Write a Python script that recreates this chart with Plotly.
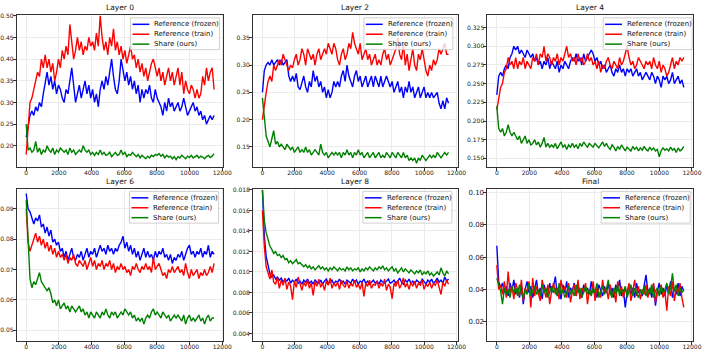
import numpy as np
import plotly.graph_objects as go

# x runs from step 0 to step 11500 for every series
MAX_STEP = 11500
TITLES = ["Layer 0", "Layer 2", "Layer 4", "Layer 6", "Layer 8", "Final"]
NAMES = ["Reference (frozen)", "Reference (train)", "Share (ours)"]

layer0_frozen = [
    0.22, 0.25, 0.27, 0.28, 0.27, 0.29, 0.28, 0.30, 0.29, 0.32,
    0.35, 0.37, 0.34, 0.36, 0.33, 0.35, 0.32, 0.34, 0.33, 0.31,
    0.30, 0.33, 0.32, 0.35, 0.38, 0.34, 0.30, 0.32, 0.34, 0.31,
    0.33, 0.35, 0.32, 0.34, 0.31, 0.33, 0.30, 0.32, 0.29, 0.33,
    0.35, 0.33, 0.36, 0.34, 0.37, 0.40, 0.36, 0.33, 0.32, 0.35,
    0.40, 0.37, 0.35, 0.37, 0.34, 0.36, 0.33, 0.35, 0.32, 0.34,
    0.30, 0.33, 0.31, 0.33, 0.32, 0.34, 0.31, 0.30, 0.33, 0.31,
    0.30, 0.29, 0.27, 0.30, 0.28, 0.31, 0.29, 0.30, 0.28, 0.29,
    0.30, 0.28, 0.29, 0.31, 0.29, 0.27, 0.28, 0.29, 0.30, 0.28,
    0.29, 0.27, 0.28, 0.26, 0.27, 0.25, 0.26, 0.27, 0.26, 0.27,
]
layer0_train = [
    0.18, 0.24, 0.30, 0.31, 0.33, 0.35, 0.37, 0.36, 0.40, 0.38,
    0.41, 0.38, 0.40, 0.37, 0.39, 0.35, 0.37, 0.40, 0.38, 0.42,
    0.40, 0.43, 0.41, 0.48, 0.44, 0.40, 0.42, 0.45, 0.42, 0.44,
    0.41, 0.43, 0.42, 0.45, 0.43, 0.44, 0.42, 0.46, 0.43, 0.50,
    0.45, 0.42, 0.44, 0.41, 0.45, 0.43, 0.47, 0.42, 0.44, 0.41,
    0.43, 0.40, 0.42, 0.39, 0.41, 0.43, 0.40, 0.41, 0.38, 0.40,
    0.37, 0.39, 0.36, 0.38, 0.35, 0.37, 0.39, 0.40, 0.38, 0.36,
    0.38, 0.35, 0.37, 0.34, 0.36, 0.38, 0.35, 0.37, 0.34, 0.36,
    0.38, 0.34, 0.37, 0.32, 0.35, 0.33, 0.32, 0.34, 0.33, 0.31,
    0.33, 0.31, 0.32, 0.36, 0.34, 0.38, 0.35, 0.37, 0.38, 0.33,
]
layer0_share = [
    0.25, 0.19, 0.195, 0.185, 0.19, 0.21, 0.185, 0.195, 0.18, 0.19,
    0.185, 0.20, 0.19, 0.185, 0.195, 0.18, 0.19, 0.185, 0.195, 0.19,
    0.185, 0.19, 0.18, 0.195, 0.185, 0.19, 0.18, 0.185, 0.19, 0.185,
    0.20, 0.19, 0.185, 0.19, 0.18, 0.185, 0.178, 0.185, 0.18, 0.19,
    0.18, 0.185, 0.178, 0.18, 0.185, 0.175, 0.18, 0.185, 0.178, 0.18,
    0.19, 0.18, 0.185, 0.175, 0.18, 0.178, 0.185, 0.18, 0.175, 0.18,
    0.172, 0.178, 0.175, 0.17, 0.176, 0.172, 0.178, 0.175, 0.18, 0.178,
    0.182, 0.176, 0.18, 0.172, 0.178, 0.174, 0.176, 0.17, 0.175, 0.168,
    0.175, 0.172, 0.178, 0.174, 0.17, 0.176, 0.173, 0.178, 0.172, 0.175,
    0.178, 0.172, 0.176, 0.174, 0.17, 0.175, 0.178, 0.173, 0.176, 0.182,
]

layer2_frozen = [
    0.25, 0.29, 0.30, 0.305, 0.30, 0.31, 0.30, 0.305, 0.31, 0.30,
    0.31, 0.30, 0.305, 0.31, 0.28, 0.27, 0.28, 0.27, 0.285, 0.26,
    0.255, 0.27, 0.28, 0.26, 0.25, 0.27, 0.26, 0.29, 0.27, 0.28,
    0.26, 0.27, 0.25, 0.26, 0.24, 0.255, 0.24, 0.25, 0.27, 0.26,
    0.27, 0.26, 0.28, 0.29, 0.27, 0.30, 0.28, 0.27, 0.26, 0.28,
    0.29, 0.27, 0.28, 0.26, 0.27, 0.28, 0.26, 0.27, 0.28, 0.26,
    0.28, 0.27, 0.26, 0.28, 0.26, 0.27, 0.28, 0.27, 0.26, 0.27,
    0.25, 0.26, 0.27, 0.25, 0.26, 0.24, 0.26, 0.25, 0.27, 0.25,
    0.26, 0.24, 0.25, 0.26, 0.24, 0.25, 0.26, 0.24, 0.25, 0.24,
    0.25, 0.24, 0.245, 0.25, 0.23, 0.22, 0.235, 0.22, 0.24, 0.23,
]
layer2_train = [
    0.20, 0.23, 0.25, 0.27, 0.28, 0.27, 0.30, 0.29, 0.30, 0.31,
    0.30, 0.32, 0.31, 0.30, 0.29, 0.30, 0.295, 0.31, 0.32, 0.30,
    0.31, 0.33, 0.32, 0.30, 0.33, 0.32, 0.31, 0.32, 0.30, 0.32,
    0.33, 0.31, 0.32, 0.33, 0.32, 0.34, 0.33, 0.32, 0.34, 0.33,
    0.31, 0.30, 0.32, 0.33, 0.31, 0.32, 0.34, 0.33, 0.36, 0.34,
    0.33, 0.32, 0.34, 0.31, 0.32, 0.33, 0.31, 0.32, 0.30, 0.31,
    0.32, 0.30, 0.31, 0.30, 0.32, 0.33, 0.31, 0.32, 0.30, 0.31,
    0.32, 0.33, 0.35, 0.32, 0.31, 0.34, 0.30, 0.32, 0.29, 0.31,
    0.33, 0.30, 0.29, 0.32, 0.31, 0.33, 0.31, 0.29, 0.28, 0.30,
    0.29, 0.31, 0.30, 0.31, 0.33, 0.32, 0.33, 0.34, 0.32, 0.32,
]
layer2_share = [
    0.24, 0.20, 0.17, 0.16, 0.15, 0.165, 0.18, 0.155, 0.16, 0.15,
    0.155, 0.15, 0.145, 0.155, 0.15, 0.145, 0.15, 0.14, 0.145, 0.15,
    0.14, 0.145, 0.14, 0.15, 0.14, 0.145, 0.135, 0.14, 0.145, 0.14,
    0.135, 0.155, 0.14, 0.135, 0.14, 0.13, 0.135, 0.14, 0.135, 0.14,
    0.135, 0.14, 0.13, 0.14, 0.135, 0.145, 0.135, 0.14, 0.13, 0.14,
    0.135, 0.145, 0.135, 0.14, 0.13, 0.135, 0.14, 0.13, 0.135, 0.14,
    0.13, 0.135, 0.14, 0.13, 0.135, 0.13, 0.14, 0.135, 0.13, 0.14,
    0.135, 0.13, 0.14, 0.135, 0.13, 0.14, 0.13, 0.135, 0.125, 0.13,
    0.125, 0.13, 0.12, 0.13, 0.125, 0.135, 0.13, 0.125, 0.13, 0.135,
    0.13, 0.135, 0.13, 0.14, 0.135, 0.13, 0.135, 0.14, 0.135, 0.14,
]

layer4_frozen = [
    0.235, 0.26, 0.265, 0.26, 0.27, 0.275, 0.27, 0.285, 0.29, 0.30,
    0.295, 0.30, 0.29, 0.295, 0.29, 0.285, 0.295, 0.29, 0.285, 0.29,
    0.28, 0.285, 0.275, 0.28, 0.27, 0.28, 0.275, 0.285, 0.27, 0.28,
    0.275, 0.27, 0.28, 0.265, 0.275, 0.27, 0.28, 0.275, 0.27, 0.28,
    0.285, 0.28, 0.29, 0.28, 0.285, 0.275, 0.29, 0.28, 0.285, 0.29,
    0.295, 0.29, 0.28, 0.285, 0.275, 0.28, 0.27, 0.275, 0.265, 0.27,
    0.275, 0.265, 0.26, 0.27, 0.265, 0.275, 0.265, 0.27, 0.26, 0.27,
    0.265, 0.27, 0.26, 0.265, 0.27, 0.26, 0.265, 0.255, 0.26, 0.265,
    0.26, 0.255, 0.265, 0.26, 0.25, 0.26, 0.255, 0.245, 0.26, 0.255,
    0.26, 0.25, 0.255, 0.265, 0.25, 0.255, 0.26, 0.25, 0.255, 0.245,
]
layer4_train = [
    0.215, 0.23, 0.245, 0.25, 0.265, 0.27, 0.285, 0.275, 0.28, 0.27,
    0.285, 0.27, 0.28, 0.275, 0.285, 0.27, 0.28, 0.275, 0.27, 0.285,
    0.28, 0.29, 0.275, 0.29, 0.285, 0.30, 0.28, 0.29, 0.285, 0.275,
    0.285, 0.28, 0.29, 0.275, 0.285, 0.28, 0.29, 0.30, 0.285, 0.29,
    0.28, 0.285, 0.275, 0.29, 0.28, 0.285, 0.275, 0.28, 0.29, 0.28,
    0.285, 0.275, 0.28, 0.27, 0.28, 0.265, 0.275, 0.27, 0.28, 0.285,
    0.275, 0.27, 0.28, 0.275, 0.27, 0.285, 0.275, 0.28, 0.29, 0.30,
    0.285, 0.275, 0.28, 0.27, 0.275, 0.285, 0.28, 0.275, 0.27, 0.28,
    0.275, 0.28, 0.27, 0.285, 0.275, 0.27, 0.28, 0.265, 0.275, 0.27,
    0.26, 0.265, 0.275, 0.285, 0.27, 0.28, 0.275, 0.285, 0.28, 0.285,
]
layer4_share = [
    0.22, 0.19, 0.185, 0.19, 0.18, 0.185, 0.195, 0.185, 0.18, 0.185,
    0.18, 0.175, 0.18, 0.17, 0.175, 0.18, 0.17, 0.175, 0.168, 0.17,
    0.175, 0.168, 0.172, 0.165, 0.17, 0.178, 0.165, 0.17, 0.165, 0.168,
    0.165, 0.17, 0.163, 0.168, 0.172, 0.165, 0.168, 0.162, 0.168, 0.165,
    0.17, 0.165, 0.168, 0.163, 0.17, 0.166, 0.172, 0.168, 0.165, 0.17,
    0.168, 0.165, 0.17, 0.167, 0.164, 0.168, 0.172, 0.166, 0.17, 0.165,
    0.162, 0.168, 0.165, 0.16, 0.166, 0.162, 0.168, 0.164, 0.16, 0.165,
    0.163, 0.16, 0.166, 0.162, 0.165, 0.16, 0.164, 0.161, 0.166, 0.162,
    0.16, 0.165, 0.161, 0.164, 0.16, 0.162, 0.152, 0.16, 0.164, 0.161,
    0.163, 0.16, 0.165, 0.161, 0.163, 0.158, 0.164, 0.16, 0.162, 0.166,
]

layer6_frozen = [
    0.095, 0.09, 0.089, 0.087, 0.085, 0.087, 0.086, 0.088, 0.084, 0.085,
    0.082, 0.084, 0.081, 0.083, 0.079, 0.08, 0.078, 0.079, 0.076, 0.077,
    0.074, 0.076, 0.073, 0.075, 0.077, 0.074, 0.073, 0.075, 0.074, 0.076,
    0.073, 0.075, 0.077, 0.074, 0.076, 0.075, 0.077, 0.074, 0.076, 0.078,
    0.076, 0.077, 0.075, 0.078, 0.076, 0.077, 0.075, 0.077, 0.076, 0.078,
    0.079, 0.081, 0.077, 0.079, 0.076, 0.078, 0.075, 0.077, 0.074, 0.076,
    0.073, 0.075, 0.077, 0.074, 0.076, 0.074, 0.075, 0.073, 0.076, 0.074,
    0.076, 0.075, 0.077, 0.074, 0.075, 0.073, 0.075, 0.072, 0.074, 0.073,
    0.075, 0.074, 0.076, 0.073, 0.075, 0.077, 0.078, 0.075, 0.076, 0.074,
    0.076, 0.075, 0.077, 0.074, 0.076, 0.075, 0.078, 0.074, 0.076, 0.075,
]
layer6_train = [
    0.09, 0.079, 0.076, 0.078, 0.08, 0.082, 0.079, 0.081, 0.078, 0.08,
    0.077, 0.079, 0.076, 0.078, 0.075, 0.077, 0.074, 0.076, 0.074, 0.075,
    0.073, 0.075, 0.072, 0.074, 0.073, 0.075, 0.072, 0.071, 0.073, 0.072,
    0.071, 0.073, 0.07, 0.072, 0.074, 0.071, 0.073, 0.07, 0.072, 0.071,
    0.073, 0.07, 0.072, 0.071, 0.073, 0.07, 0.072, 0.069, 0.071, 0.07,
    0.072, 0.07, 0.071, 0.069, 0.07, 0.068, 0.071, 0.07, 0.072, 0.07,
    0.069, 0.071, 0.07, 0.072, 0.07, 0.071, 0.069, 0.074, 0.07, 0.071,
    0.072, 0.07, 0.068, 0.069, 0.067, 0.07, 0.069, 0.071, 0.069, 0.07,
    0.071, 0.069, 0.07, 0.068, 0.072, 0.069, 0.067, 0.07, 0.068, 0.069,
    0.07, 0.067, 0.069, 0.068, 0.07, 0.068, 0.069, 0.071, 0.069, 0.072,
]
layer6_share = [
    0.093, 0.08, 0.067, 0.064, 0.066, 0.065, 0.067, 0.069, 0.066, 0.065,
    0.064, 0.063, 0.064, 0.062, 0.059, 0.06, 0.058, 0.06, 0.057, 0.058,
    0.059, 0.057, 0.058, 0.056, 0.058, 0.057, 0.056, 0.057, 0.058, 0.056,
    0.057, 0.055, 0.056, 0.054, 0.056, 0.055, 0.054, 0.056, 0.055, 0.054,
    0.056, 0.055, 0.057, 0.055, 0.054, 0.056, 0.055, 0.056, 0.054, 0.055,
    0.056, 0.055, 0.057, 0.056, 0.055, 0.056, 0.054, 0.055, 0.053, 0.054,
    0.053, 0.054, 0.052, 0.054, 0.055, 0.054, 0.056, 0.057, 0.055, 0.056,
    0.055, 0.054, 0.056, 0.055, 0.054, 0.055, 0.053, 0.054, 0.055, 0.054,
    0.055, 0.054, 0.053, 0.055, 0.052, 0.054, 0.055, 0.053, 0.054, 0.053,
    0.054, 0.055, 0.053, 0.054, 0.052, 0.054, 0.055, 0.053, 0.054, 0.054,
]

layer8_frozen = [
    0.018, 0.0135, 0.0115, 0.0105, 0.0098, 0.0095, 0.0097, 0.0093, 0.0095, 0.0092,
    0.0094, 0.009, 0.0093, 0.0091, 0.0094, 0.0089, 0.0092, 0.009, 0.0093, 0.0089,
    0.0091, 0.0088, 0.0092, 0.009, 0.0093, 0.0089, 0.0091, 0.0088, 0.0092, 0.009,
    0.0089, 0.0092, 0.0088, 0.0091, 0.0093, 0.0089, 0.009, 0.0092, 0.0088, 0.0091,
    0.009, 0.0093, 0.0089, 0.0091, 0.0088, 0.0092, 0.009, 0.0089, 0.0093, 0.009,
    0.0092, 0.0088, 0.0091, 0.009, 0.0093, 0.0089, 0.0091, 0.0088, 0.009, 0.0092,
    0.0089, 0.0091, 0.0088, 0.0092, 0.009, 0.0089, 0.0091, 0.0093, 0.0089, 0.009,
    0.0092, 0.0089, 0.0091, 0.0094, 0.009, 0.0088, 0.0092, 0.009, 0.0093, 0.0089,
    0.0091, 0.0088, 0.0092, 0.009, 0.0089, 0.0093, 0.0091, 0.0088, 0.0092, 0.009,
    0.0093, 0.0089, 0.0091, 0.0094, 0.009, 0.0092, 0.0089, 0.0095, 0.0091, 0.0093,
]
layer8_train = [
    0.016, 0.0125, 0.0105, 0.0098, 0.0093, 0.0102, 0.009, 0.0088, 0.0095, 0.0084,
    0.0092, 0.0087, 0.0094, 0.0083, 0.009, 0.0086, 0.0073, 0.0091, 0.0085, 0.0095,
    0.0088, 0.0082, 0.009, 0.0086, 0.0092, 0.0084, 0.0089, 0.0077, 0.0091, 0.0086,
    0.0093, 0.0085, 0.0089, 0.0082, 0.0091, 0.0087, 0.0094, 0.0084, 0.0089, 0.0086,
    0.009, 0.0083, 0.0092, 0.0087, 0.0085, 0.0091, 0.0084, 0.0089, 0.0086, 0.0092,
    0.0085, 0.0088, 0.0083, 0.009, 0.0076, 0.0089, 0.0086, 0.0092, 0.0084, 0.0088,
    0.0087, 0.0091, 0.0084, 0.0089, 0.0086, 0.0093, 0.0082, 0.0088, 0.0085, 0.0074,
    0.0089, 0.0086, 0.0092, 0.0084, 0.0088, 0.0094, 0.0085, 0.0089, 0.0083, 0.009,
    0.0086, 0.0091, 0.0084, 0.0089, 0.0087, 0.0092, 0.0083, 0.0088, 0.0086, 0.009,
    0.0084, 0.0089, 0.0087, 0.0092, 0.0085, 0.0078, 0.009, 0.0086, 0.0092, 0.0088,
]
layer8_share = [
    0.018, 0.015, 0.0138, 0.013, 0.0125, 0.0122, 0.0118, 0.012, 0.0116, 0.0117,
    0.0114, 0.0116, 0.0112, 0.0113, 0.0109, 0.0111, 0.0108, 0.011, 0.0112, 0.0108,
    0.0109, 0.0107, 0.0105, 0.0107, 0.0104, 0.0106, 0.0103, 0.0105, 0.0102, 0.0104,
    0.0106, 0.0103, 0.0105, 0.0102, 0.0104, 0.0101, 0.0104, 0.0102, 0.0105, 0.0103,
    0.0101, 0.0104, 0.0102, 0.0103, 0.0101, 0.0105, 0.0102, 0.0104, 0.0101, 0.0103,
    0.0102, 0.0104, 0.01, 0.0103, 0.0101, 0.0104, 0.0102, 0.0105, 0.0103, 0.0101,
    0.0104, 0.0102, 0.0105, 0.0103, 0.0106, 0.0102, 0.0104, 0.0101, 0.0103, 0.0105,
    0.0101, 0.0103, 0.0099, 0.0102, 0.0104, 0.01, 0.0103, 0.0101, 0.0099, 0.0102,
    0.01, 0.0098, 0.0101, 0.0099, 0.0102, 0.0097, 0.01, 0.0098, 0.0101, 0.0097,
    0.0099, 0.0096, 0.0098, 0.01, 0.0097, 0.0104, 0.0099, 0.0096, 0.0101, 0.0098,
]

final_frozen = [
    0.067, 0.045, 0.041, 0.044, 0.038, 0.042, 0.036, 0.044, 0.039, 0.046,
    0.037, 0.041, 0.035, 0.043, 0.031, 0.04, 0.045, 0.038, 0.042, 0.035,
    0.04, 0.046, 0.037, 0.041, 0.034, 0.043, 0.039, 0.036, 0.044, 0.038,
    0.042, 0.048, 0.036, 0.04, 0.034, 0.043, 0.038, 0.045, 0.035, 0.041,
    0.039, 0.044, 0.036, 0.042, 0.038, 0.035, 0.043, 0.039, 0.041, 0.037,
    0.045, 0.038, 0.04, 0.035, 0.043, 0.039, 0.036, 0.042, 0.038, 0.044,
    0.037, 0.041, 0.035, 0.043, 0.039, 0.046, 0.036, 0.04, 0.029, 0.038,
    0.043, 0.037, 0.041, 0.035, 0.044, 0.038, 0.04, 0.036, 0.042, 0.049,
    0.038, 0.041, 0.035, 0.043, 0.03, 0.039, 0.044, 0.037, 0.041, 0.036,
    0.043, 0.038, 0.045, 0.035, 0.041, 0.037, 0.044, 0.036, 0.042, 0.039,
]
final_train = [
    0.055, 0.04, 0.043, 0.037, 0.045, 0.035, 0.051, 0.038, 0.042, 0.034,
    0.044, 0.039, 0.036, 0.046, 0.033, 0.041, 0.038, 0.045, 0.029, 0.047,
    0.036, 0.042, 0.038, 0.033, 0.046, 0.04, 0.035, 0.043, 0.031, 0.039,
    0.044, 0.037, 0.041, 0.034, 0.046, 0.038, 0.042, 0.035, 0.044, 0.032,
    0.039, 0.043, 0.036, 0.046, 0.034, 0.041, 0.038, 0.044, 0.031, 0.04,
    0.037, 0.045, 0.033, 0.042, 0.039, 0.035, 0.046, 0.038, 0.041, 0.034,
    0.043, 0.036, 0.04, 0.032, 0.045, 0.038, 0.042, 0.035, 0.041, 0.037,
    0.044, 0.033, 0.039, 0.046, 0.036, 0.042, 0.034, 0.04, 0.037, 0.043,
    0.035, 0.041, 0.038, 0.044, 0.032, 0.04, 0.037, 0.043, 0.035, 0.039,
    0.027, 0.042, 0.036, 0.045, 0.033, 0.04, 0.038, 0.044, 0.035, 0.029,
]
final_share = [
    0.047, 0.042, 0.039, 0.031, 0.041, 0.037, 0.04, 0.035, 0.042, 0.038,
    0.041, 0.036, 0.043, 0.038, 0.035, 0.04, 0.037, 0.044, 0.036, 0.039,
    0.042, 0.037, 0.04, 0.036, 0.043, 0.038, 0.041, 0.035, 0.039, 0.042,
    0.038, 0.041, 0.036, 0.044, 0.037, 0.04, 0.035, 0.039, 0.042, 0.037,
    0.04, 0.036, 0.043, 0.038, 0.041, 0.035, 0.039, 0.042, 0.037, 0.04,
    0.036, 0.041, 0.038, 0.044, 0.035, 0.039, 0.042, 0.037, 0.04, 0.046,
    0.038, 0.035, 0.041, 0.037, 0.043, 0.036, 0.04, 0.038, 0.042, 0.035,
    0.039, 0.043, 0.036, 0.041, 0.038, 0.035, 0.04, 0.037, 0.042, 0.036,
    0.04, 0.037, 0.043, 0.035, 0.039, 0.041, 0.036, 0.042, 0.038, 0.04,
    0.044, 0.037, 0.041, 0.05, 0.039, 0.043, 0.036, 0.041, 0.038, 0.04,
]

PANELS = [
    (layer0_frozen, layer0_train, layer0_share),
    (layer2_frozen, layer2_train, layer2_share),
    (layer4_frozen, layer4_train, layer4_share),
    (layer6_frozen, layer6_train, layer6_share),
    (layer8_frozen, layer8_train, layer8_share),
    (final_frozen, final_train, final_share),
]

# axis look per panel: y range, tick values, tick format
Y_RANGES = [[0.152, 0.502], [0.114, 0.392], [0.139, 0.342],
            [0.0464, 0.0964], [0.00325, 0.01805], [0.0082, 0.1017]]
Y_TICKS = [
    [0.20, 0.25, 0.30, 0.35, 0.40, 0.45, 0.50],
    [0.15, 0.20, 0.25, 0.30, 0.35],
    [0.150, 0.175, 0.200, 0.225, 0.250, 0.275, 0.300, 0.325],
    [0.05, 0.06, 0.07, 0.08, 0.09],
    [0.004, 0.006, 0.008, 0.010, 0.012, 0.014, 0.016, 0.018],
    [0.02, 0.04, 0.06, 0.08, 0.10],
]
Y_FORMATS = [".2f", ".2f", ".3f", ".2f", ".3f", ".2f"]
Y_FONT = [6, 6, 6, 6, 6, 7]
X_TICKS = [0, 2000, 4000, 6000, 8000, 10000, 12000]
X_LABELS = ["0", "2000", "4000", "6000", "8000", "10000", "12000"]

COLORS = ["#0000ff", "#ff0000", "#008000"]

W, H = 714, 354
# panel boxes in pixels (left, right, top, bottom)
X_PIX = [(17, 226), (256, 463), (493, 701)]
Y_PIX = [(12, 165), (188, 341)]
LEGEND_RIGHT = [222, 458, 700, 221, 457, 698]
LEGEND_TOP = [15, 190]
FONT = "DejaVu Sans"


def px(x, y):
    """pixel position -> paper coords"""
    return x / W, 1 - y / H


def add_legend(fig, right, top):
    """matplotlib-like legend box drawn with shapes and text"""
    x0, y0 = px(right - 90, top)
    x1, y1 = px(right, top + 32)
    fig.add_shape(type="rect", xref="paper", yref="paper",
                  x0=x0, y0=y1, x1=x1, y1=y0,
                  fillcolor="rgba(255,255,255,0.8)",
                  line=dict(color="#d0d0d0", width=1))
    for k, (name, color) in enumerate(zip(NAMES, COLORS)):
        yy = top + 6.5 + 10 * k
        lx0, ly = px(right - 88, yy)
        lx1, _ = px(right - 71, yy)
        fig.add_shape(type="line", xref="paper", yref="paper",
                      x0=lx0, x1=lx1, y0=ly, y1=ly,
                      line=dict(color=color, width=1.5))
        tx, _ = px(right - 68, yy)
        fig.add_annotation(text=name, xref="paper", yref="paper",
                           x=tx, y=ly, xanchor="left", yanchor="middle",
                           showarrow=False,
                           font=dict(family=FONT, size=7, color="#111111"))


fig = go.Figure()

for i, series in enumerate(PANELS):
    row, col = divmod(i, 3)
    suffix = "" if i == 0 else str(i + 1)
    for name, vals, color in zip(NAMES, series, COLORS):
        steps = np.linspace(0, MAX_STEP, len(vals))
        fig.add_trace(go.Scatter(
            x=steps, y=vals, mode="lines", name=name, showlegend=False,
            line=dict(color=color, width=1.4),
            xaxis="x" + suffix, yaxis="y" + suffix,
        ))

    xl, xr = X_PIX[col]
    yt, yb = Y_PIX[row]
    axis_common = dict(
        showline=True, mirror=True, linecolor="#333333", linewidth=1,
        showgrid=True, gridcolor="#ebebeb", gridwidth=1, zeroline=False,
        ticks="outside", ticklen=3, tickcolor="#333333",
    )
    fig.layout["xaxis" + suffix] = dict(
        domain=[xl / W, xr / W], anchor="y" + suffix,
        range=[-575, 12075], tickvals=X_TICKS, ticktext=X_LABELS,
        tickfont=dict(family=FONT, size=6, color="#222222"),
        ticklabelstandoff=-3,
        **axis_common,
    )
    fig.layout["yaxis" + suffix] = dict(
        domain=[1 - yb / H, 1 - yt / H], anchor="x" + suffix,
        range=Y_RANGES[i], tickvals=Y_TICKS[i], tickformat=Y_FORMATS[i],
        tickfont=dict(family=FONT, size=Y_FONT[i], color="#222222"),
        ticklabelstandoff=-2,
        **axis_common,
    )
    add_legend(fig, LEGEND_RIGHT[i], LEGEND_TOP[row])
    fig.add_annotation(
        text=TITLES[i], xref="paper", yref="paper",
        x=(xl + xr) / 2 / W, y=1 - (yt - 1) / H,
        xanchor="center", yanchor="bottom", showarrow=False,
        font=dict(family=FONT, size=7.5, color="#111111"),
    )

fig.update_layout(
    width=W, height=H,
    margin=dict(l=0, r=0, t=0, b=0),
    paper_bgcolor="white", plot_bgcolor="white",
    showlegend=False,
)

fig.write_html(
    "out.html",
    config={"displayModeBar": False},
    post_script="document.body.style.margin='0';document.body.style.overflow='hidden';",
)
